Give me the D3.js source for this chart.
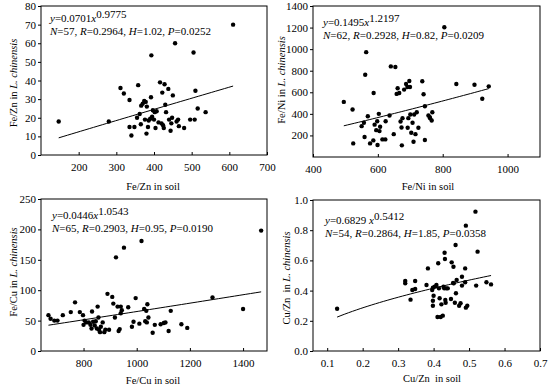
<!DOCTYPE html>
<html>
<head>
<meta charset="utf-8">
<script src="https://cdn.jsdelivr.net/npm/d3@7"></script>
<style>
  body { margin: 0; background: #fff; }
  svg text { font-family: "Liberation Serif", "Times New Roman", serif; fill: #000; }
</style>
</head>
<body>
<div id="chart"></div>
<script>
// Fe/Zn: soil vs L. chinensis
const feZnPoints = [
  [147, 18], [280, 18], [311, 36], [320, 33], [335, 29.5], [335, 15], [340, 10.5],
  [348, 15], [355, 20], [358, 37.5], [362, 22], [365, 16.5], [366, 26.5], [370, 27.5],
  [374, 29], [376, 19], [378, 28.5], [380, 11.5], [381, 26], [384, 15], [386, 18.5],
  [390, 19.5], [392, 31], [393, 53.5], [395, 20.5], [397, 24], [400, 19], [402, 23],
  [404, 14.5], [407, 23.5], [412, 17.5], [416, 39], [420, 17], [422, 33.5], [424, 16],
  [426, 14.5], [428, 38], [430, 27], [432, 23], [438, 35.5], [440, 19], [444, 13],
  [446, 17], [448, 20], [450, 32], [456, 60], [460, 18], [464, 19], [466, 15.5],
  [480, 14.5], [496, 19], [505, 55], [508, 19], [510, 34.5], [516, 25], [537, 23], [610, 70]
];

// Fe/Ni: soil vs L. chinensis
const feNiPoints = [
  [495, 511], [522, 440], [524, 126], [550, 286], [557, 317], [561, 763], [564, 972],
  [559, 185], [569, 378], [576, 126], [587, 594], [586, 154], [595, 249], [598, 332],
  [599, 111], [603, 400], [607, 280], [605, 240], [614, 163], [623, 163], [624, 332],
  [636, 385], [640, 840], [649, 212], [654, 834], [658, 585], [661, 637], [666, 594],
  [670, 329], [673, 274], [676, 360], [674, 108], [681, 625], [687, 677], [691, 649],
  [692, 271], [694, 360], [697, 705], [699, 649], [700, 394], [703, 225], [707, 317],
  [710, 142], [712, 394], [716, 212], [720, 415], [725, 271], [737, 702], [741, 582],
  [745, 471], [745, 157], [756, 385], [761, 360], [766, 338], [768, 415], [805, 1203],
  [842, 677], [898, 670], [922, 540], [942, 655], [760, 370], [590, 300]
];

// Fe/Cu: soil vs L. chinensis
const feCuPoints = [
  [668, 59], [676, 53], [690, 50], [702, 50], [722, 59], [752, 64], [768, 80], [786, 64],
  [798, 59], [800, 43], [804, 50], [810, 47], [820, 47], [826, 43], [830, 37], [832, 65],
  [836, 48], [842, 42], [846, 49], [850, 37], [853, 73], [856, 55], [858, 35], [862, 31],
  [872, 47], [878, 31], [882, 35], [890, 94], [896, 35], [908, 89], [912, 78], [918, 55],
  [922, 154], [928, 73], [932, 33], [936, 36], [940, 73], [944, 67], [952, 170], [968, 72],
  [982, 40], [988, 48], [996, 87], [1018, 181], [1028, 69], [1032, 49], [1036, 66],
  [1040, 77], [1038, 47], [1044, 55], [1060, 30], [1068, 43], [1090, 44], [1102, 46],
  [1108, 47], [1120, 33], [1128, 66], [1168, 44], [1190, 38], [1285, 88], [1400, 69],
  [1468, 198], [1010, 45], [940, 62], [865, 40]
];

// Cu/Zn: soil vs L. chinensis
const cuZnPoints = [
  [0.128, 0.28], [0.32, 0.464], [0.32, 0.448], [0.335, 0.34], [0.34, 0.404], [0.348, 0.464],
  [0.348, 0.411], [0.38, 0.437], [0.384, 0.547], [0.396, 0.404], [0.398, 0.419], [0.398, 0.333],
  [0.398, 0.300], [0.40, 0.366], [0.403, 0.426], [0.408, 0.437], [0.411, 0.225], [0.413, 0.581],
  [0.415, 0.415], [0.417, 0.349], [0.42, 0.225], [0.422, 0.309], [0.426, 0.234], [0.428, 0.426],
  [0.43, 0.415], [0.431, 0.651], [0.432, 0.609], [0.433, 0.338], [0.434, 0.320], [0.436, 0.415],
  [0.44, 0.415], [0.449, 0.344], [0.451, 0.587], [0.456, 0.558], [0.457, 0.448], [0.46, 0.320],
  [0.462, 0.702], [0.463, 0.382], [0.465, 0.470], [0.472, 0.300], [0.476, 0.316], [0.48, 0.492],
  [0.48, 0.433], [0.489, 0.455], [0.489, 0.547], [0.491, 0.830], [0.491, 0.287], [0.495, 0.300],
  [0.518, 0.923], [0.52, 0.433], [0.524, 0.658], [0.549, 0.455], [0.562, 0.441], [0.455, 0.45]
];

const feZnXTicks = [200, 300, 400, 500, 600, 700];
const feZnYTicks = [0, 10, 20, 30, 40, 50, 60, 70, 80];
const feNiXTicks = [400, 600, 800, 1000];
const feNiYTicks = [200, 400, 600, 800, 1000, 1200, 1400];
const feCuXTicks = [800, 1000, 1200, 1400];
const feCuYTicks = [0, 50, 100, 150, 200, 250];
const cuZnXTicks = [0.1, 0.2, 0.3, 0.4, 0.5, 0.6, 0.7];
const cuZnYTicks = [0, 0.2, 0.4, 0.6, 0.8, 1.0];

const panels = [
  {
    points: feZnPoints, xTicks: feZnXTicks, yTicks: feZnYTicks,
    xDomain: [100, 700], yDomain: [0, 80], left: 41, right: 267, top: 6, bottom: 155,
    a: "0.0701", b: "0.9775", sep: "", stats: ["57", "0.2964", "1.02", "0.0252"],
    eqX: 50, eqY: 22, xName: "Fe/Zn in soil", yName: "Fe/Zn in ", titleX: 153, titleY: 190,
    yTitleX: 13, yTitleY: 83, yFmt: d3.format("d"), xFmt: d3.format("d"),
  },
  {
    points: feNiPoints, xTicks: feNiXTicks, yTicks: feNiYTicks,
    xDomain: [400, 1100], yDomain: [0, 1400], left: 313, right: 540, top: 6, bottom: 157,
    a: "0.1495", b: "1.2197", sep: "", stats: ["62", "0.2928", "0.82", "0.0209"],
    eqX: 323, eqY: 26, xName: "Fe/Ni in soil", yName: "Fe/Ni in ", titleX: 428, titleY: 190,
    yTitleX: 281, yTitleY: 80, yFmt: d3.format("d"), xFmt: d3.format("d"),
  },
  {
    points: feCuPoints, xTicks: feCuXTicks, yTicks: feCuYTicks,
    xDomain: [640, 1490], yDomain: [0, 250], left: 41, right: 267, top: 199, bottom: 351,
    a: "0.0446", b: "1.0543", sep: "", stats: ["65", "0.2903", "0.95", "0.0190"],
    eqX: 52, eqY: 219, xName: "Fe/Cu in soil", yName: "Fe/Cu in ", titleX: 153, titleY: 384,
    yTitleX: 13, yTitleY: 272, yFmt: d3.format("d"), xFmt: d3.format("d"),
  },
  {
    points: cuZnPoints, xTicks: cuZnXTicks, yTicks: cuZnYTicks,
    xDomain: [0.06, 0.7], yDomain: [0, 1], left: 313, right: 540, top: 200, bottom: 351,
    a: "0.6829", b: "0.5412", sep: " ", stats: ["54", "0.2864", "1.85", "0.0358"],
    eqX: 325, eqY: 224, xName: "Cu/Zn  in soil", yName: "Cu/Zn  in ", titleX: 432, titleY: 382,
    yTitleX: 286, yTitleY: 278, yFmt: d3.format(".1f"), xFmt: d3.format(".1f"),
  },
];

const svg = d3
  .select("#chart")
  .append("svg")
  .attr("width", 550)
  .attr("height", 387);

function drawPanel(p) {
  const g = svg.append("g");
  const x = d3.scaleLinear().domain(p.xDomain).range([p.left, p.right]);
  const y = d3.scaleLinear().domain(p.yDomain).range([p.bottom, p.top]);

  // X axis (ticks point inward)
  const xAxis = g
    .append("g")
    .attr("transform", `translate(0,${p.bottom})`)
    .call(d3.axisBottom(x).tickValues(p.xTicks).tickSize(-3).tickPadding(8.5).tickFormat(p.xFmt));
  xAxis.select(".domain").remove();
  xAxis.selectAll("text").attr("font-size", 11).attr("font-family", "Liberation Serif");

  // Y axis (ticks point outward)
  const yAxis = g
    .append("g")
    .attr("transform", `translate(${p.left},0)`)
    .call(d3.axisLeft(y).tickValues(p.yTicks).tickSize(3).tickPadding(2).tickFormat(p.yFmt));
  yAxis.select(".domain").remove();
  yAxis.selectAll("text").attr("font-size", 11).attr("font-family", "Liberation Serif");

  // Plot frame
  g.append("rect")
    .attr("x", p.left)
    .attr("y", p.top)
    .attr("width", p.right - p.left)
    .attr("height", p.bottom - p.top)
    .attr("fill", "none")
    .attr("stroke", "#000")
    .attr("stroke-width", 1);

  // Points
  g.append("g")
    .selectAll("circle")
    .data(p.points)
    .enter()
    .append("circle")
    .attr("cx", (d) => x(d[0]))
    .attr("cy", (d) => y(d[1]))
    .attr("r", 2.2)
    .attr("fill", "#000");

  // Power fit y = a * x^b over the data range
  const a = +p.a;
  const b = +p.b;
  const [x0, x1] = d3.extent(p.points, (d) => d[0]);
  const curve = d3.range(0, 41).map((i) => x0 + ((x1 - x0) * i) / 40);
  g.append("path")
    .datum(curve)
    .attr("d", d3.line().x((d) => x(d)).y((d) => y(a * Math.pow(d, b))))
    .attr("fill", "none")
    .attr("stroke", "#000")
    .attr("stroke-width", 1);

  // Equation
  const eq = g.append("text").attr("x", p.eqX).attr("y", p.eqY).attr("font-size", 11);
  eq.append("tspan").attr("font-style", "italic").text("y");
  eq.append("tspan").text(`=${p.a}${p.sep}`);
  eq.append("tspan").attr("font-style", "italic").text("x");
  eq.append("tspan").attr("dy", -4).attr("font-size", 11).text(p.b);

  const st = g.append("text").attr("x", p.eqX).attr("y", p.eqY + 13).attr("font-size", 11);
  const parts = [["N", p.stats[0]], ["R", p.stats[1]], ["H", p.stats[2]], ["P", p.stats[3]]];
  parts.forEach(([k, v], i) => {
    st.append("tspan").attr("font-style", "italic").text(k);
    st.append("tspan").text(`=${v}${i < 3 ? ", " : ""}`);
  });

  // Axis titles
  g.append("text")
    .attr("x", p.titleX)
    .attr("y", p.titleY)
    .attr("text-anchor", "middle")
    .attr("font-size", 10.5)
    .style("white-space", "pre")
    .text(p.xName);

  const yt = g
    .append("text")
    .attr("transform", `translate(${p.yTitleX},${p.yTitleY}) rotate(-90)`)
    .attr("text-anchor", "middle")
    .attr("dy", "0.35em")
    .attr("font-size", 10.5)
    .style("white-space", "pre");
  yt.append("tspan").text(p.yName);
  yt.append("tspan").attr("font-style", "italic").text("L. chinensis");
}

panels.forEach(drawPanel);
</script>
</body>
</html>
